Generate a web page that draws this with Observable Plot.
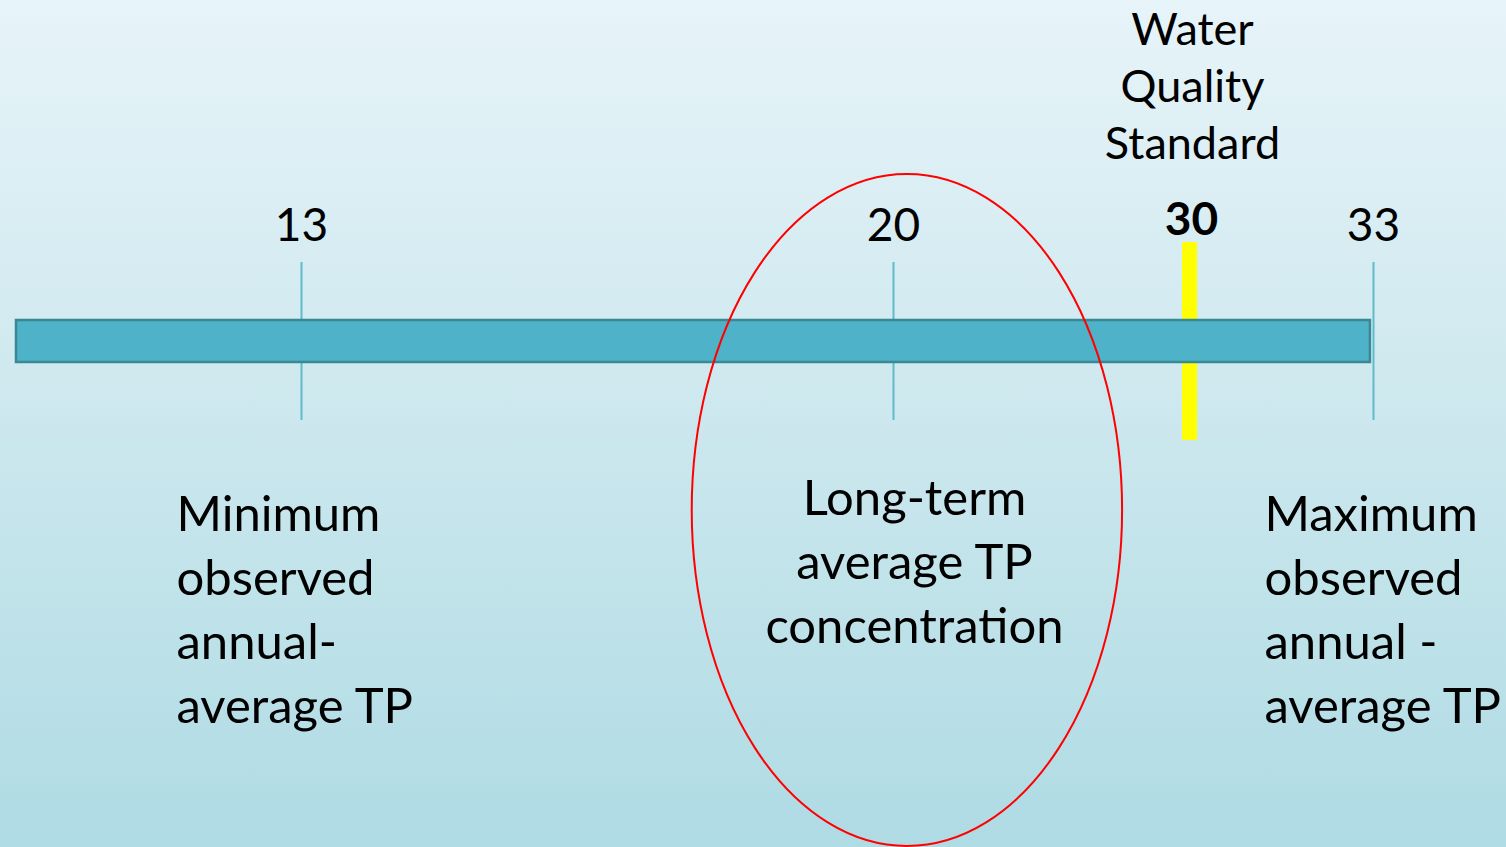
<!DOCTYPE html>
<html>
<head>
<meta charset="utf-8">
<script src="https://cdn.jsdelivr.net/npm/d3@7"></script>
<script src="https://cdn.jsdelivr.net/npm/@observablehq/plot@0.6"></script>
<style>
  html, body { margin: 0; padding: 0; }
  body { width: 1506px; height: 847px; overflow: hidden;
         background: linear-gradient(to bottom, #e7f4f9 0%, #cde8ee 48%, #afdbe4 100%); }
</style>
</head>
<body>
<div id="chart"></div>
<script>
// ---- data ----
const scaleStops = [9.6, 13, 20, 30, 33];          // schematic (non-linear) TP axis stops
const tickValues = [13, 20, 33];
const tickLabels = ["13", "20", "33"];
const barExtent = [9.6, 32.95];                      // the TP range bar
const standardValue = 30;
const standardLabel = "30";
const standardTitle = ["Water", "Quality", "Standard"];
const minLabel = ["Minimum", "observed", "annual-", "average TP"];
const avgLabel = ["Long-term", "average TP", "concentration"];
const maxLabel = ["Maximum", "observed", "annual -", "average TP"];
const highlightExtent = [17.62, 27.74];               // red ellipse spans these TP values

const font = "Lato, 'Open Sans', sans-serif";
const big = 49, num = 46;

const ticks = tickValues.map((v, i) => ({v, label: tickLabels[i]}));

const ellipseMark = (index, scales) => {
  const x1 = scales.x(highlightExtent[0]), x2 = scales.x(highlightExtent[1]);
  const y1 = scales.y(174), y2 = scales.y(846);
  return d3.create("svg:ellipse")
    .attr("cx", (x1 + x2) / 2).attr("cy", (y1 + y2) / 2)
    .attr("rx", (x2 - x1) / 2).attr("ry", (y2 - y1) / 2)
    .attr("fill", "none").attr("stroke", "#ff0000").attr("stroke-width", 2)
    .node();
};

const chart = Plot.plot({
  width: 1506,
  height: 847,
  margin: 0,
  style: {background: "transparent", fontFamily: font, overflow: "visible"},
  x: {type: "linear", domain: scaleStops, range: [16, 301, 893, 1189, 1373], axis: null},
  y: {type: "linear", domain: [0, 847], range: [0, 847], axis: null},
  marks: [
    Plot.ruleX(ticks, {x: "v", y1: 262, y2: 420, stroke: "#5ebbcb", strokeWidth: 2}),
    Plot.ruleX([standardValue], {x: d => d, y1: 242, y2: 440, stroke: "#ffff00", strokeWidth: 15}),
    Plot.rect([barExtent], {x1: d => d[0], x2: d => d[1], y1: 320, y2: 362,
      fill: "#4eb3c8", stroke: "#3a8894", strokeWidth: 2.5}),
    Plot.text(ticks, {x: "v", y: 242, text: "label", fontSize: num, fill: "black",
      lineAnchor: "bottom", dy: 0.2 * num - 11}),
    Plot.text([standardLabel], {x: standardValue, y: 236, text: d => d, fontSize: num,
      fontWeight: "bold", fill: "black", lineAnchor: "bottom", dy: 0.2 * num - 11, dx: 2}),
    Plot.text([standardTitle.join("\n")], {x: standardValue, y: 43, text: d => d, fontSize: 45,
      fill: "black", lineAnchor: "top", lineHeight: 57 / 45, dy: -0.71 * 45 - 7, dx: 3}),
    Plot.text([minLabel.join("\n")], {x: 13, y: 530, text: d => d, fontSize: big,
      fill: "black", textAnchor: "start", lineAnchor: "top", lineHeight: 64 / big, dy: -0.71 * big - 10, dx: -125}),
    Plot.text([avgLabel.join("\n")], {x: 20, y: 514, text: d => d, fontSize: big,
      fill: "black", textAnchor: "middle", lineAnchor: "top", lineHeight: 64 / big, dy: -0.71 * big - 10, dx: 21}),
    Plot.text([maxLabel.join("\n")], {x: 33, y: 530, text: d => d, fontSize: big,
      fill: "black", textAnchor: "start", lineAnchor: "top", lineHeight: 64 / big, dy: -0.71 * big - 10, dx: -109}),
    ellipseMark
  ]
});
document.getElementById("chart").appendChild(chart);
</script>
</body>
</html>
